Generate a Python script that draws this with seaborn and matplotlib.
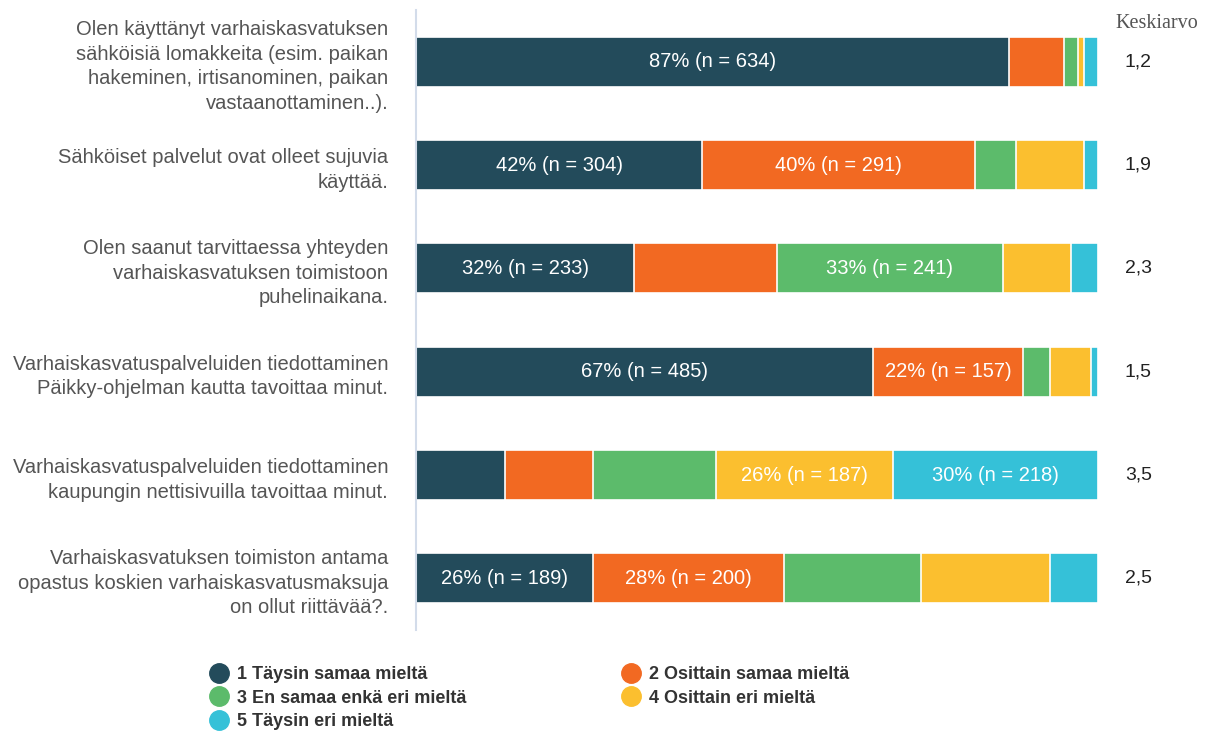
import matplotlib
matplotlib.use("Agg")
import matplotlib.pyplot as plt
import numpy as np
import pandas as pd
import seaborn as sns
from matplotlib.lines import Line2D

QUESTIONS = [
    "Olen käyttänyt varhaiskasvatuksen\nsähköisiä lomakkeita (esim. paikan\nhakeminen, irtisanominen, paikan\nvastaanottaminen..).",
    "Sähköiset palvelut ovat olleet sujuvia\nkäyttää.",
    "Olen saanut tarvittaessa yhteyden\nvarhaiskasvatuksen toimistoon\npuhelinaikana.",
    "Varhaiskasvatuspalveluiden tiedottaminen\nPäikky-ohjelman kautta tavoittaa minut.",
    "Varhaiskasvatuspalveluiden tiedottaminen\nkaupungin nettisivuilla tavoittaa minut.",
    "Varhaiskasvatuksen toimiston antama\nopastus koskien varhaiskasvatusmaksuja\non ollut riittävää?.",
]
SERIES = [
    "1 Täysin samaa mieltä",
    "2 Osittain samaa mieltä",
    "3 En samaa enkä eri mieltä",
    "4 Osittain eri mieltä",
    "5 Täysin eri mieltä",
]
COLORS = ["#234B5B", "#F26922", "#5CBB6B", "#FBBF2F", "#35C1D8"]

# prosentit per vastausvaihtoehto (rivit = kysymykset)
pct_1 = [87, 42, 32, 67, 13, 26]
pct_2 = [8, 40, 21, 22, 13, 28]
pct_3 = [2, 6, 33, 4, 18, 20]
pct_4 = [1, 10, 10, 6, 26, 19]
pct_5 = [2, 2, 4, 1, 30, 7]

# n-arvot vain niille palkeille joissa näkyy teksti
n_1 = [634, 304, 233, 485, None, 189]
n_2 = [None, 291, None, 157, None, 200]
n_3 = [None, None, 241, None, None, None]
n_4 = [None, None, None, None, 187, None]
n_5 = [None, None, None, None, 218, None]

MEANS = ["1,2", "1,9", "2,3", "1,5", "3,5", "2,5"]

PCTS = [pct_1, pct_2, pct_3, pct_4, pct_5]
NS = [n_1, n_2, n_3, n_4, n_5]


def main():
    sns.set_style("white")
    plt.rcParams["font.family"] = ["Liberation Sans", "DejaVu Sans"]

    df = pd.DataFrame({"question": QUESTIONS})
    for s, vals in zip(SERIES, PCTS):
        df[s] = vals
    cum = df[SERIES].cumsum(axis=1)

    fig = plt.figure(figsize=(12.08, 7.42), dpi=100)
    ax = fig.add_axes([416 / 1208, 1 - 630 / 742, 682 / 1208, 620 / 742])

    # pinotut palkit: piirretään suurimmasta kumulatiivisesta pienimpään
    for i in reversed(range(len(SERIES))):
        sns.barplot(x=cum[SERIES[i]], y=df["question"], orient="h", color=COLORS[i],
                    width=0.485, edgecolor="white", linewidth=1.2, saturation=1, ax=ax)

    # palkkien tekstit
    for i, s in enumerate(SERIES):
        left = cum[s] - df[s]
        for r in range(len(QUESTIONS)):
            n = NS[i][r]
            if n is None:
                continue
            ax.text(left[r] + df[s][r] / 2, r, f"{df[s][r]}% (n = {n})",
                    ha="center", va="center", color="white", fontsize=14.5)

    # keskiarvot oikealla
    for r, m in enumerate(MEANS):
        ax.text(105.9, r, m, ha="center", va="center", fontsize=14, color="#222222",
                clip_on=False)
    fig.text(1157 / 1208, 1 - 23 / 742, "Keskiarvo", ha="center", va="center",
             fontsize=14.5, color="#555555", family="Liberation Serif")

    ax.set_xlim(0, 100)
    ax.set_ylim(len(QUESTIONS) - 0.5, -0.5)
    ax.set_xlabel("")
    ax.set_ylabel("")
    ax.set_xticks([])
    ax.tick_params(axis="y", length=0, pad=20)
    ax.set_yticks(range(len(QUESTIONS)))
    ax.set_yticklabels(QUESTIONS, fontsize=14.5, color="#555555", linespacing=1.38)
    for side in ["top", "right", "bottom"]:
        ax.spines[side].set_visible(False)
    ax.spines["left"].set_color("#D3DCEA")
    ax.spines["left"].set_linewidth(1.5)

    # selite: rivi kerrallaan -> järjestys sarakkeittain
    handles = [Line2D([], [], marker="o", linestyle="", markersize=14,
                      markerfacecolor=c, markeredgecolor=c) for c in COLORS]
    order = [0, 2, 4, 1, 3]
    leg = fig.legend([handles[i] for i in order], [SERIES[i] for i in order],
                     ncol=2, loc="upper left", bbox_to_anchor=(192 / 1208, 1 - 650 / 742),
                     frameon=False, handletextpad=0.4, handlelength=1.2,
                     columnspacing=8.5, labelspacing=0.35,
                     prop={"weight": "bold", "size": 13})
    for t in leg.get_texts():
        t.set_color("#333333")

    fig.savefig("out.png", dpi=100)


if __name__ == "__main__":
    main()
